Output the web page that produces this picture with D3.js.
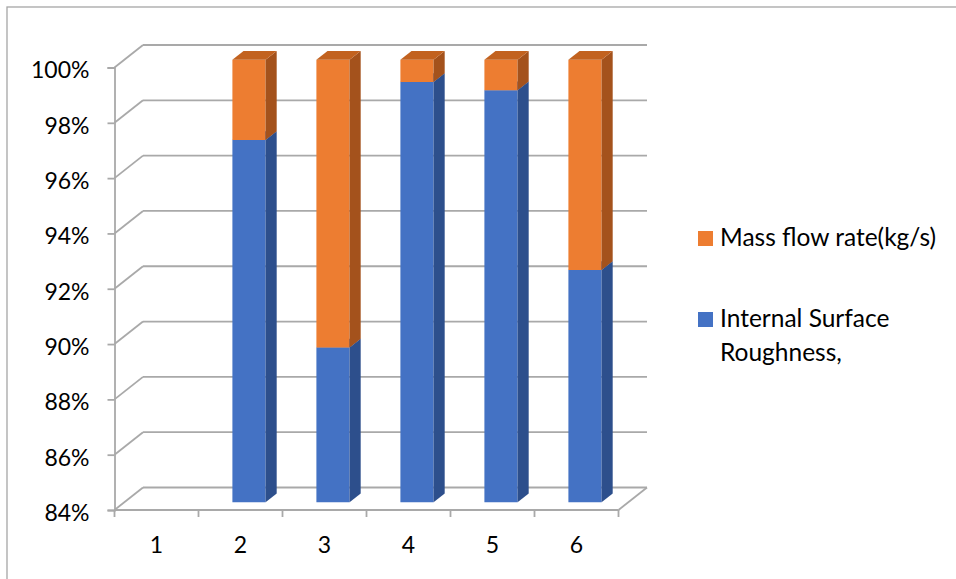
<!DOCTYPE html>
<html>
<head>
<meta charset="utf-8">
<script src="https://cdn.jsdelivr.net/npm/d3@7/dist/d3.min.js"></script>
<style>
  html, body { margin: 0; padding: 0; background: #fff; }
  svg { display: block; font-family: Lato, "Open Sans", sans-serif; }
</style>
</head>
<body>
<svg id="chart" width="956" height="579"></svg>
<script>
// Categories and the two stacked series (share of 100%)
const categories = ["1", "2", "3", "4", "5", "6"];
const roughness = [0, 97.1, 89.6, 99.2, 98.9, 92.4];
const massFlow  = [0, 2.9, 10.4, 0.8, 1.1, 7.6];
const yTicks = [84, 86, 88, 90, 92, 94, 96, 98, 100];
const seriesNames = ["Mass flow rate(kg/s)", "Internal Surface Roughness,"];

const svg = d3.select("#chart");

// Outer chart frame (top and left edges visible)
svg.append("rect")
  .attr("x", 7).attr("y", 7).attr("width", 1000).attr("height", 1000)
  .attr("fill", "none").attr("stroke", "#a6a6a6").attr("stroke-width", 1.3);

// Plot geometry: front plane and depth offset of the 3D box
const x0 = 114.5, x1 = 618.5;
const DX = 28.5, DY = 22.5;
const x = d3.scaleBand().domain(categories).range([x0, x1]);
const y = d3.scaleLinear().domain([84, 100]).range([510, 67.5]);
const yMin = y.domain()[0];

const grid = svg.append("g").attr("stroke", "#a9a9a9").attr("stroke-width", 1.8).attr("fill", "none");

// Back wall gridlines and left wall diagonals
yTicks.forEach(t => {
  const yy = y(t);
  grid.append("line").attr("x1", x0 + DX).attr("x2", x1 + DX).attr("y1", yy - DY).attr("y2", yy - DY);
  grid.append("line").attr("x1", x0).attr("x2", x0 + DX).attr("y1", yy).attr("y2", yy - DY);
});
// Floor front edge and right edge
grid.append("line").attr("x1", x0).attr("x2", x1).attr("y1", y(yMin)).attr("y2", y(yMin));
grid.append("line").attr("x1", x1).attr("x2", x1 + DX).attr("y1", y(yMin)).attr("y2", y(yMin) - DY);

// Value axis (front left edge)
const yAxis = d3.axisLeft(y).tickValues(yTicks).tickSize(7).tickPadding(18)
  .tickFormat(d => d + "%");
const gy = svg.append("g").attr("transform", `translate(${x0},0)`).call(yAxis);
gy.select(".domain").attr("stroke", "#a9a9a9").attr("stroke-width", 1.8);
gy.selectAll(".tick line").attr("stroke", "#a9a9a9").attr("stroke-width", 1.8);
gy.selectAll(".tick text").attr("font-size", 23).attr("font-family", "Lato, sans-serif")
  .attr("fill", "#000").attr("dy", "0.45em");

// Category axis: boundary ticks under the floor edge plus centred labels
const bounds = categories.map(c => x(c)).concat([x1]);
const gx = svg.append("g");
gx.selectAll("line.bt").data(bounds).join("line")
  .attr("x1", d => d).attr("x2", d => d)
  .attr("y1", y(yMin)).attr("y2", y(yMin) + 7)
  .attr("stroke", "#a9a9a9").attr("stroke-width", 1.8);
gx.selectAll("text").data(categories).join("text")
  .attr("x", d => x(d) + x.bandwidth() / 2)
  .attr("y", 553)
  .attr("text-anchor", "middle")
  .attr("font-size", 23).attr("fill", "#000")
  .text(d => d);

// Stacked 3D columns
const colors = {
  rough: { front: "#4472C4", side: "#2D4F8C", top: "#3A63AE" },
  mass:  { front: "#ED7D31", side: "#A4521C", top: "#C2621F" }
};
const fFront = 0.34, fBack = 0.73;
const barW = x.bandwidth() * 0.395;

function pt(px, v, f) { return [px + f * DX, y(v) - f * DY]; }
function poly(pts) { return pts.map(p => p.join(",")).join(" "); }

const bars = svg.append("g");
categories.forEach((c, i) => {
  const total = roughness[i] + massFlow[i];
  if (total <= 0) return;
  const segs = [
    { lo: 0, hi: roughness[i] / total * 100, col: colors.rough },
    { lo: roughness[i] / total * 100, hi: 100, col: colors.mass }
  ];
  const xl = x(c) + (x.bandwidth() - barW) / 2 - 1.2;
  const xr = xl + barW;
  segs.forEach(s => {
    const lo = Math.max(s.lo, yMin), hi = Math.max(s.hi, yMin);
    if (hi <= lo) return;
    const g = bars.append("g");
    // front face
    g.append("polygon").attr("fill", s.col.front)
      .attr("points", poly([pt(xl, lo, fFront), pt(xr, lo, fFront), pt(xr, hi, fFront), pt(xl, hi, fFront)]));
    // right side face
    g.append("polygon").attr("fill", s.col.side)
      .attr("points", poly([pt(xr, lo, fFront), pt(xr, lo, fBack), pt(xr, hi, fBack), pt(xr, hi, fFront)]));
    // top face
    g.append("polygon").attr("fill", s.col.top)
      .attr("points", poly([pt(xl, hi, fFront), pt(xr, hi, fFront), pt(xr, hi, fBack), pt(xl, hi, fBack)]));
  });
});

// Legend
const legend = svg.append("g");
const legendItems = [
  { lines: ["Mass flow rate(kg/s)"], color: colors.mass.front, y: 246 },
  { lines: ["Internal Surface", "Roughness,"], color: colors.rough.front, y: 327 }
];
legendItems.forEach(it => {
  legend.append("rect").attr("x", 698).attr("y", it.y - 15).attr("width", 15).attr("height", 15)
    .attr("fill", it.color);
  const t = legend.append("text").attr("x", 720).attr("y", it.y)
    .attr("font-size", 24.5).attr("fill", "#000");
  it.lines.forEach((ln, k) => {
    t.append("tspan").attr("x", 720).attr("dy", k === 0 ? 0 : 33.5).text(ln);
  });
});
</script>
</body>
</html>
